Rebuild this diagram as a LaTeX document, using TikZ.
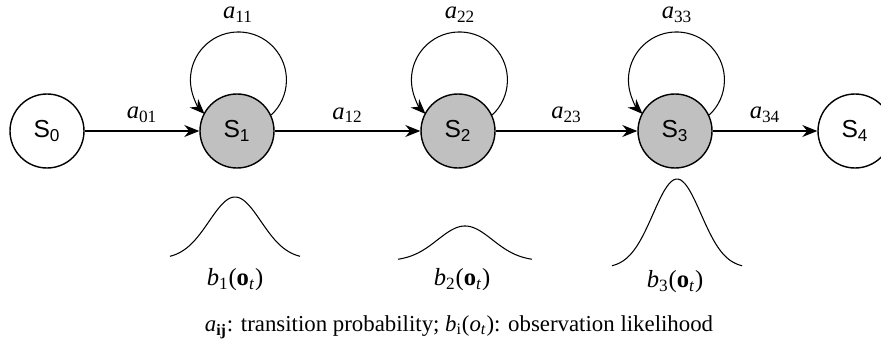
\documentclass[tikz,border=0pt]{standalone}
\usepackage{fontspec}
\setmainfont{Liberation Serif}
\setsansfont{Liberation Sans}
\usetikzlibrary{arrows.meta,positioning}
\definecolor{stategray}{RGB}{192,192,192}

\begin{document}
\begin{tikzpicture}[
    state/.style={circle, draw, thick, minimum size=1.48cm, inner sep=0pt, font=\sffamily\fontsize{14}{16}\selectfont},
    hidden/.style={state, fill=stategray},
    arrow/.style={semithick,-{Stealth[length=3mm,width=2.4mm]}},
    lab/.style={font=\fontsize{14}{16}\selectfont},
    bell/.style={semithick, smooth, samples=60}
]
    \useasboundingbox (0,0) rectangle (17.62,-7.02);

    % States
    \node (s0) [state] at (0.94,-2.62) {S\textsubscript{0}};
    \node (s1) [hidden] at (4.74,-2.62) {S\textsubscript{1}};
    \node (s2) [hidden] at (9.16,-2.62) {S\textsubscript{2}};
    \node (s3) [hidden] at (13.5,-2.62) {S\textsubscript{3}};
    \node (s4) [state] at (17.1,-2.62) {S\textsubscript{4}};

    % Transitions
    \draw [arrow] (s0) -- node[lab, above=1pt] {\textit{a}\textsubscript{01}} (s1);
    \draw [arrow] (s1) -- node[lab, above=1pt] {\textit{a}\textsubscript{12}} (s2);
    \draw [arrow] (s2) -- node[lab, above=1pt] {\textit{a}\textsubscript{23}} (s3);
    \draw [arrow] (s3) -- node[lab, above=1pt] {\textit{a}\textsubscript{34}} (s4);

    % Self loops
    \draw [arrow] (s1.25) arc[start angle=-47, end angle=225, radius=0.96cm];
    \draw [arrow] (s2.25) arc[start angle=-47, end angle=225, radius=0.96cm];
    \draw [arrow] (s3.25) arc[start angle=-47, end angle=225, radius=0.96cm];
    \node (a11) [lab] at (4.76,-0.3) {\textit{a}\textsubscript{11}};
    \node (a22) [lab] at (9.2,-0.3) {\textit{a}\textsubscript{22}};
    \node (a33) [lab] at (13.54,-0.3) {\textit{a}\textsubscript{33}};

    % Observation densities
    \draw [bell] plot[domain=-1.3:1.3] ({4.7+\x},{-5.18+1.24*exp(-(\x*\x)/(2*0.27))});
    \draw [bell] plot[domain=-1.34:1.34] ({9.3+\x},{-5.22+0.7*exp(-(\x*\x)/(2*0.3))});
    \draw [bell] plot[domain=-1.3:1.3] ({13.54+\x},{-5.36+1.78*exp(-(\x*\x)/(2*0.23))});
    \node (b1) [lab] at (4.7,-5.6) {\textit{b}\textsubscript{1}(\textbf{o}\textsubscript{\textit{t}})};
    \node (b2) [lab] at (9.24,-5.6) {\textit{b}\textsubscript{2}(\textbf{o}\textsubscript{\textit{t}})};
    \node (b3) [lab] at (13.5,-5.64) {\textit{b}\textsubscript{3}(\textbf{o}\textsubscript{\textit{t}})};

    % Caption
    \node (note) [font=\fontsize{13}{15}\selectfont] at (9.18,-6.54) {\textit{a}\textsubscript{\textbf{ij}}: transition probability; \textit{b}\textsubscript{i}(\textit{o}\textsubscript{\textit{t}}): observation likelihood};
\end{tikzpicture}
\end{document}
